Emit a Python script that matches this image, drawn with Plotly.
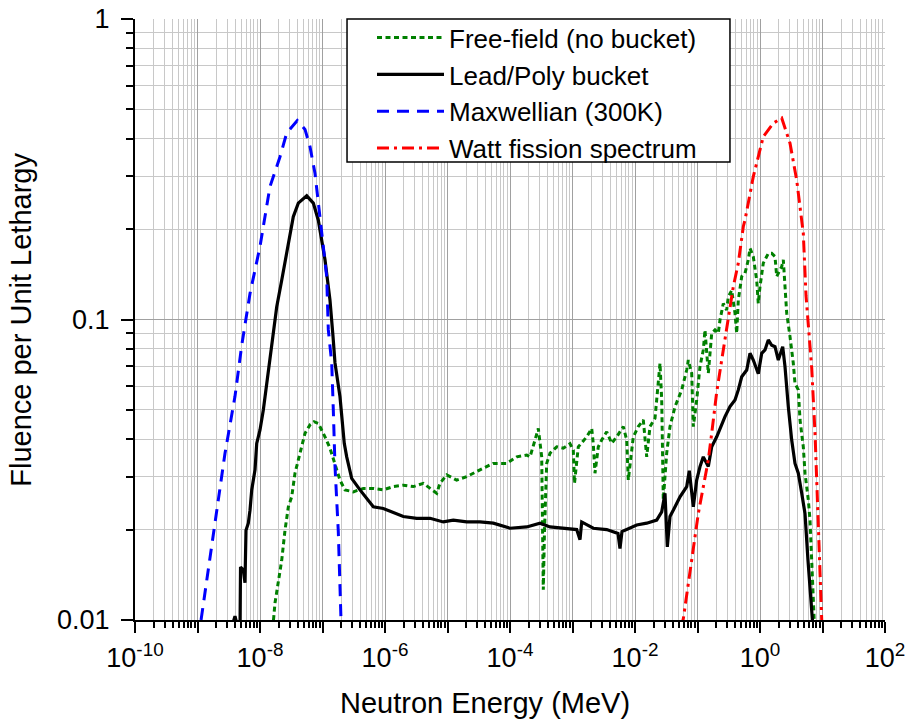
import plotly.graph_objects as go

# ---------------- data ----------------
free_E = [1.50e-8, 1.63e-8, 1.738e-8, 1.963e-8, 2.225e-8, 2.512e-8, 2.84e-8, 3.215e-8, 3.63e-8, 4.37e-8,
          5.25e-8, 6.31e-8, 7.31e-8, 8.57e-8, 9.71e-8, 1.096e-7, 1.318e-7, 1.585e-7, 1.905e-7, 2.29e-7,
          3.11e-7, 4.497e-7, 6.50e-7, 9.39e-7, 1.358e-6, 1.963e-6, 2.837e-6, 4.10e-6, 5.25e-6, 6.72e-6,
          7.59e-6, 9.71e-6, 1.404e-5, 2.03e-5, 3.31e-5, 5.41e-5, 8.86e-5, 1.28e-4, 1.85e-4, 2.09e-4,
          2.512e-4, 2.837e-4, 3.215e-4, 3.31e-4, 3.41e-4, 3.565e-4, 3.866e-4, 4.37e-4, 5.59e-4, 7.13e-4,
          9.12e-4, 1.03e-3, 1.076e-3, 1.238e-3, 1.688e-3, 2.029e-3, 2.15e-3, 2.29e-3, 2.587e-3, 2.93e-3,
          3.525e-3, 4.24e-3, 5.10e-3, 6.50e-3, 7.37e-3, 7.81e-3, 9.39e-3, 1.129e-2, 1.358e-2, 1.539e-2,
          1.738e-2, 2.09e-2, 2.512e-2, 2.675e-2, 2.837e-2, 3.215e-2, 3.63e-2, 4.37e-2, 5.59e-2, 6.72e-2,
          7.13e-2, 8.08e-2, 8.57e-2, 9.71e-2, 0.1096, 0.1238, 0.1318, 0.1489, 0.1688, 0.1905,
          0.2152, 0.229, 0.2587, 0.293, 0.311, 0.3525, 0.398, 0.424, 0.4497, 0.510,
          0.575, 0.650, 0.692, 0.781, 0.886, 0.939, 1.0, 1.129, 1.358, 1.539,
          1.738, 1.85, 2.225, 2.36, 2.512, 2.675, 3.02, 3.41, 3.63, 4.10,
          4.37, 4.93, 5.25, 5.93, 6.31, 6.79, 7.13, 7.45]
free_F = [0.0094, 0.0098, 0.0114, 0.0132, 0.0158, 0.0199, 0.0238, 0.0257, 0.0308, 0.0359,
          0.0418, 0.0446, 0.0457, 0.0451, 0.0429, 0.0407, 0.0373, 0.0332, 0.0292, 0.0271,
          0.0267, 0.0274, 0.0274, 0.0271, 0.0278, 0.0281, 0.0278, 0.0285, 0.0274, 0.0264,
          0.0285, 0.0304, 0.0292, 0.0300, 0.0316, 0.0332, 0.0332, 0.0349, 0.0354, 0.0349,
          0.0397, 0.0434, 0.0349, 0.0215, 0.0126, 0.0199, 0.0332, 0.0359, 0.0377, 0.0373,
          0.0386, 0.0368, 0.0285, 0.0377, 0.0407, 0.0434, 0.0386, 0.0308, 0.0377, 0.0397,
          0.0423, 0.0387, 0.0407, 0.0440, 0.0397, 0.0292, 0.0407, 0.0440, 0.0463, 0.0349,
          0.0440, 0.0469, 0.0715, 0.0540, 0.0251, 0.0359, 0.0440, 0.0513, 0.0583, 0.0679,
          0.0733, 0.0662, 0.0440, 0.0540, 0.0697, 0.0792, 0.0923, 0.0662, 0.0900, 0.0923,
          0.0900, 0.0996, 0.113, 0.1075, 0.119, 0.125, 0.105, 0.090, 0.116, 0.139,
          0.1425, 0.158, 0.1726, 0.162, 0.135, 0.113, 0.1286, 0.154, 0.166, 0.166,
          0.162, 0.139, 0.150, 0.158, 0.1286, 0.105, 0.0877, 0.0715, 0.0613, 0.0583,
          0.0463, 0.0377, 0.0308, 0.0251, 0.0215, 0.0147, 0.0103, 0.0094]

bucket_E = [3.56e-9, 3.98e-9, 4.37e-9, 4.79e-9, 4.88e-9, 5.41e-9, 5.75e-9, 5.97e-9, 6.50e-9, 6.92e-9,
            7.37e-9, 8.32e-9, 8.86e-9, 1.0e-8, 1.13e-8, 1.28e-8, 1.445e-8, 1.63e-8, 1.85e-8, 2.225e-8,
            2.84e-8, 3.41e-8, 4.10e-8, 5.59e-8, 7.13e-8, 8.57e-8, 1.096e-7, 1.318e-7, 1.472e-7, 1.585e-7,
            1.905e-7, 2.23e-7, 2.44e-7, 2.93e-7, 3.98e-7, 5.10e-7, 6.50e-7, 9.39e-7, 1.358e-6, 1.963e-6,
            3.215e-6, 5.25e-6, 8.57e-6, 1.238e-5, 2.03e-5, 3.31e-5, 5.41e-5, 1.0e-4, 1.85e-4, 3.02e-4,
            4.37e-4, 7.13e-4, 1.167e-3, 1.318e-3, 1.404e-3, 2.15e-3, 3.525e-3, 5.35e-3, 5.75e-3, 6.19e-3,
            7.37e-3, 1.065e-2, 1.539e-2, 2.225e-2, 2.675e-2, 3.02e-2, 3.29e-2, 3.63e-2, 4.37e-2, 5.25e-2,
            6.72e-2, 7.39e-2, 8.57e-2, 9.71e-2, 0.1096, 0.1238, 0.1489, 0.1688, 0.2029, 0.244,
            0.2754, 0.331, 0.398, 0.4497, 0.510, 0.613, 0.692, 0.781, 0.939, 1.065,
            1.202, 1.358, 1.539, 1.738, 1.963, 2.307, 2.512, 2.837, 3.215, 3.63,
            4.10, 4.65, 5.25, 5.86, 6.72, 7.05]
bucket_F = [0.0095, 0.0103, 0.0095, 0.0095, 0.0150, 0.0147, 0.0133, 0.0199, 0.0210, 0.0232,
            0.0271, 0.0316, 0.0387, 0.0429, 0.0500, 0.0613, 0.0752, 0.0923, 0.110, 0.135,
            0.179, 0.220, 0.244, 0.258, 0.244, 0.214, 0.158, 0.116, 0.0881, 0.0717,
            0.0553, 0.0387, 0.0349, 0.0296, 0.0271, 0.0254, 0.0238, 0.0235, 0.0228, 0.0221,
            0.0218, 0.0218, 0.0212, 0.0215, 0.0212, 0.0212, 0.0210, 0.0202, 0.0204, 0.0210,
            0.0204, 0.0202, 0.0200, 0.0185, 0.0212, 0.0202, 0.0200, 0.0194, 0.0173, 0.0197,
            0.0200, 0.0207, 0.0210, 0.0215, 0.0229, 0.0264, 0.0175, 0.0221, 0.0238, 0.0257,
            0.0278, 0.0314, 0.0238, 0.0292, 0.0324, 0.0349, 0.0324, 0.0377, 0.0407, 0.0451,
            0.0475, 0.0513, 0.0540, 0.0583, 0.0645, 0.0679, 0.0772, 0.0733, 0.0660, 0.0772,
            0.0792, 0.0855, 0.0821, 0.0812, 0.0733, 0.0812, 0.0697, 0.0513, 0.0397, 0.0332,
            0.0308, 0.0264, 0.0226, 0.0158, 0.0101, 0.0094]

maxw_E = [1.14e-9, 2.75e-9, 3.98e-9, 5.10e-9, 6.92e-9, 1.0e-8, 1.445e-8, 2.09e-8, 2.67e-8, 3.95e-8,
          5.25e-8, 6.31e-8, 7.59e-8, 9.12e-8, 1.03e-7, 1.167e-7, 1.238e-7, 1.404e-7, 1.489e-7, 1.585e-7,
          1.79e-7, 1.977e-7]
maxw_F = [0.010, 0.0358, 0.0555, 0.082, 0.122, 0.175, 0.277, 0.348, 0.417, 0.459,
          0.429, 0.376, 0.306, 0.220, 0.179, 0.139, 0.0925, 0.0716, 0.050, 0.0325,
          0.0197, 0.010]

watt_E = [5.45e-2, 5.93e-2, 0.103, 0.1238, 0.1489, 0.1688, 0.2029, 0.244, 0.293, 0.374,
          0.4497, 0.541, 0.575, 0.781, 1.129, 1.633, 2.225, 3.02, 3.866, 4.65,
          4.93, 5.45, 6.72, 7.59, 8.08, 8.57, 9.46, 9.82]
watt_F = [0.0094, 0.0101, 0.0226, 0.0278, 0.0341, 0.0418, 0.0574, 0.0733, 0.0937, 0.1286,
          0.154, 0.204, 0.214, 0.2987, 0.406, 0.450, 0.468, 0.386, 0.291, 0.214,
          0.1935, 0.120, 0.069, 0.0418, 0.0278, 0.0218, 0.0101, 0.0094]

series_names = ["Free-field (no bucket)", "Lead/Poly bucket", "Maxwellian (300K)", "Watt fission spectrum"]

x_tickvals = [1e-10, 1e-9, 1e-8, 1e-7, 1e-6, 1e-5, 1e-4, 1e-3, 1e-2, 1e-1, 1e0, 1e1, 1e2]
x_ticktext = ["10<sup>-10</sup>", "", "10<sup>-8</sup>", "", "10<sup>-6</sup>", "", "10<sup>-4</sup>", "",
              "10<sup>-2</sup>", "", "10<sup>0</sup>", "", "10<sup>2</sup>"]
x_minor = [m * d for d in x_tickvals[:-1] for m in range(2, 10)]
y_tickvals = [0.01, 0.1, 1]
y_ticktext = ["0.01", "0.1", "1"]
y_minor = [m * d for d in y_tickvals[:-1] for m in range(2, 10)]

FONT = "Liberation Sans, Arial, sans-serif"

fig = go.Figure()
fig.add_trace(go.Scatter(x=free_E, y=free_F, mode="lines", name=series_names[0],
                         line=dict(color="#008000", width=3, dash="5px,3.5px")))
fig.add_trace(go.Scatter(x=bucket_E, y=bucket_F, mode="lines", name=series_names[1],
                         line=dict(color="black", width=3.2)))
fig.add_trace(go.Scatter(x=maxw_E, y=maxw_F, mode="lines", name=series_names[2],
                         line=dict(color="#0000ff", width=3, dash="12px,8px")))
fig.add_trace(go.Scatter(x=watt_E, y=watt_F, mode="lines", name=series_names[3],
                         line=dict(color="#ff0000", width=3, dash="12px,5px,3px,5px")))

common_x = dict(type="log", range=[-10, 2], tickvals=x_tickvals, fixedrange=True, automargin=False)
common_y = dict(type="log", range=[-2, 0], tickvals=y_tickvals, fixedrange=True, automargin=False)

fig.update_layout(
    width=914, height=722,
    margin=dict(l=135, r=29, t=19, b=102, autoexpand=False),
    paper_bgcolor="white", plot_bgcolor="white",
    font=dict(family=FONT, size=27, color="black"),
    showlegend=True,
    xaxis=dict(**common_x, ticktext=x_ticktext, ticks="outside", ticklen=11, tickwidth=2,
               tickcolor="black", showline=True, linewidth=2, linecolor="black",
               showgrid=True, gridcolor="#a0a0a0", gridwidth=1, zeroline=False,
               tickfont=dict(size=27), ticklabelstandoff=2,
               minor=dict(tickvals=x_minor, ticks="outside", ticklen=6, tickwidth=1.5,
                          tickcolor="black", showgrid=True, gridcolor="#c8c8c8", gridwidth=1)),
    yaxis=dict(**common_y, ticktext=y_ticktext, ticks="outside", ticklen=12, tickwidth=2,
               tickcolor="black", showline=True, linewidth=2, linecolor="black",
               showgrid=True, gridcolor="#a0a0a0", gridwidth=1, zeroline=False,
               tickfont=dict(size=27), ticklabelstandoff=6,
               minor=dict(tickvals=y_minor, ticks="outside", ticklen=7, tickwidth=1.5,
                          tickcolor="black", showgrid=True, gridcolor="#c8c8c8", gridwidth=1)),
    xaxis2=dict(**common_x, overlaying="x", side="top", anchor="y", showticklabels=False,
                ticks="inside", ticklen=12, tickwidth=2, tickcolor="black",
                showline=True, linewidth=2, linecolor="black", showgrid=False, zeroline=False,
                minor=dict(tickvals=x_minor, ticks="inside", ticklen=6, tickwidth=1.5,
                           tickcolor="black", showgrid=False)),
    yaxis2=dict(**common_y, overlaying="y", side="right", anchor="x", showticklabels=False,
                ticks="inside", ticklen=12, tickwidth=2, tickcolor="black",
                showline=True, linewidth=2, linecolor="black", showgrid=False, zeroline=False,
                minor=dict(tickvals=y_minor, ticks="inside", ticklen=7, tickwidth=1.5,
                           tickcolor="black", showgrid=False)),
    legend=dict(x=0.316, y=1.008, xanchor="left", yanchor="top",
                bgcolor="rgba(0,0,0,0)", borderwidth=0,
                font=dict(family=FONT, size=26, color="black"),
                itemwidth=67, tracegroupgap=0),
    shapes=[dict(type="rect", xref="paper", yref="paper", x0=0.2827, x1=0.7933, y0=0.762, y1=1.0,
                 fillcolor="white", line=dict(color="black", width=1.5), layer="above")],
    annotations=[
        dict(text="Neutron Energy (MeV)", xref="paper", yref="paper", x=0.2707, y=-0.138,
             xanchor="left", yanchor="middle", showarrow=False, font=dict(family=FONT, size=29)),
        dict(text="Fluence per Unit Lethargy", xref="paper", yref="paper", x=-0.153, y=0.5,
             xanchor="center", yanchor="middle", textangle=-90, showarrow=False,
             font=dict(family=FONT, size=29)),
    ],
)

fig.write_html("out.html", config={"displayModeBar": False},
               post_script="document.body.style.margin='0px';document.body.style.overflow='hidden';")
